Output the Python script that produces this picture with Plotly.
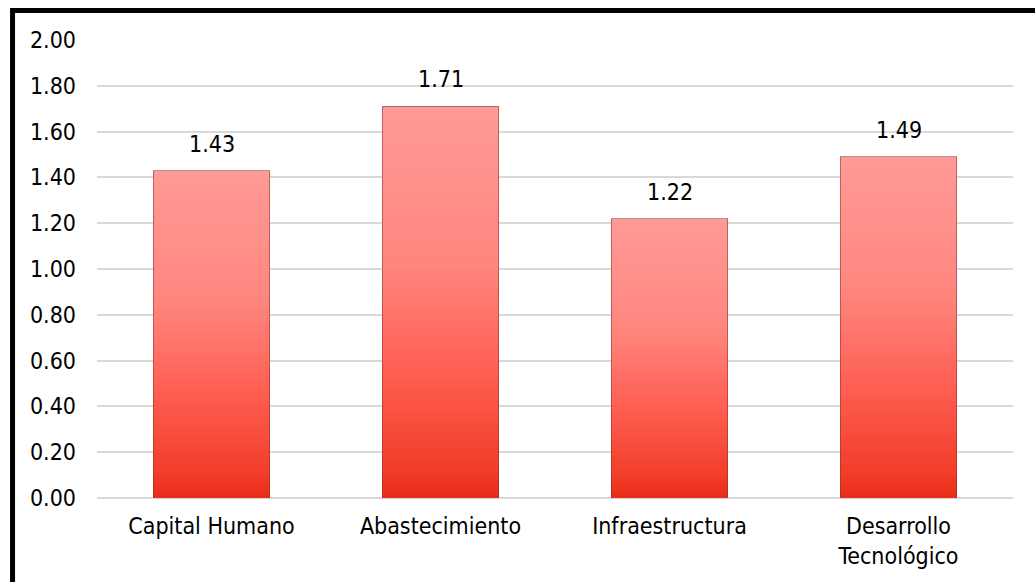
import plotly.graph_objects as go

categories = ["Capital Humano", "Abastecimiento", "Infraestructura", "Desarrollo<br>Tecnológico"]
values = [1.43, 1.71, 1.22, 1.49]
value_labels = ["1.43", "1.71", "1.22", "1.49"]
y_ticks = [0.0, 0.2, 0.4, 0.6, 0.8, 1.0, 1.2, 1.4, 1.6, 1.8, 2.0]
y_tick_labels = ["0.00", "0.20", "0.40", "0.60", "0.80", "1.00", "1.20", "1.40", "1.60", "1.80", "2.00"]

FONT = "DejaVu Sans Condensed, DejaVu Sans, sans-serif"
FS = 23

# gradient stops (fraction of bar height from bottom, rgb)
stops = [
    (0.00, (232, 44, 24)),
    (0.08, (242, 62, 42)),
    (0.35, (255, 98, 86)),
    (0.60, (255, 134, 126)),
    (1.00, (255, 154, 150)),
]


def grad(t):
    for (t0, c0), (t1, c1) in zip(stops[:-1], stops[1:]):
        if t0 <= t <= t1:
            f = (t - t0) / (t1 - t0) if t1 > t0 else 0
            return "rgb(%d,%d,%d)" % tuple(round(a + (b - a) * f) for a, b in zip(c0, c1))
    return "rgb(%d,%d,%d)" % stops[-1][1]


N = 60
fig = go.Figure()
for i in range(N):
    t = (i + 0.5) / N
    fig.add_trace(go.Bar(
        x=categories,
        y=[v / N for v in values],
        marker=dict(color=grad(t), line=dict(width=0)),
        hoverinfo="skip",
        showlegend=False,
    ))

# outline / bevel edge
fig.add_trace(go.Bar(
    x=categories,
    y=values,
    xaxis="x2",
    marker=dict(color="rgba(0,0,0,0)", line=dict(color="rgba(140,50,45,0.55)", width=1)),
    hoverinfo="skip",
    showlegend=False,
))

for c, v, lab in zip(categories, values, value_labels):
    fig.add_annotation(
        x=c, y=v, text=lab, showarrow=False, yanchor="bottom", yshift=12,
        font=dict(family=FONT, size=FS, color="#000000"),
    )

fig.update_layout(
    width=1035,
    height=582,
    margin=dict(l=97, r=22, t=40, b=84),
    paper_bgcolor="white",
    plot_bgcolor="white",
    barmode="stack",
    bargap=0.493,
    font=dict(family=FONT, size=FS, color="#000000"),
    xaxis=dict(
        type="category",
        categoryorder="array",
        categoryarray=categories,
        showgrid=False,
        showline=False,
        ticks="",
        ticklabelstandoff=12,
        tickfont=dict(family=FONT, size=FS, color="#000000"),
    ),
    xaxis2=dict(
        type="category",
        categoryorder="array",
        categoryarray=categories,
        overlaying="x",
        matches="x",
        visible=False,
    ),
    yaxis=dict(
        range=[0, 2.0],
        tickvals=y_ticks,
        ticktext=y_tick_labels,
        showgrid=True,
        gridcolor="#D9D9D9",
        gridwidth=1.5,
        zeroline=True,
        zerolinecolor="#D9D9D9",
        zerolinewidth=1.5,
        showline=False,
        ticks="",
        ticklabelstandoff=20,
        tickfont=dict(family=FONT, size=FS, color="#000000"),
    ),
    shapes=[dict(
        type="rect", xref="paper", yref="paper",
        x0=-0.0922, x1=1.2, y0=-0.5, y1=1.0644,
        line=dict(color="#000000", width=5),
        fillcolor="rgba(0,0,0,0)",
        layer="above",
    )],
)

fig.write_html("out.html")
